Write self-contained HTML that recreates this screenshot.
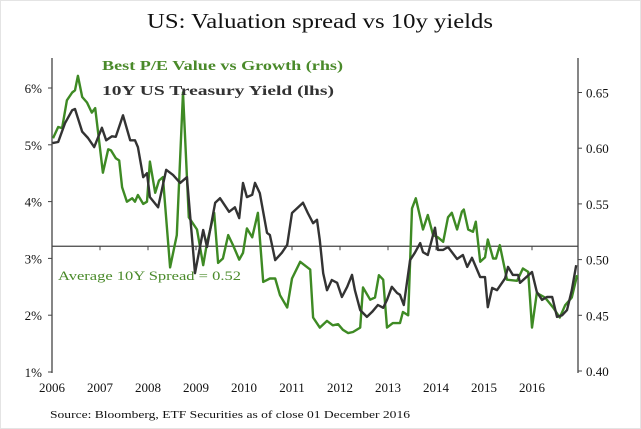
<!DOCTYPE html>
<html><head><meta charset="utf-8"><style>
body{margin:0;background:#fff;}
svg{display:block;font-family:"Liberation Serif",serif;}
</style></head><body>
<svg id="chart" width="641" height="429" viewBox="0 0 641 429">
<rect x="0.5" y="0.5" width="640" height="428" fill="#fff" stroke="#e4e4e4"/>
<text x="147" y="28" font-size="21" textLength="346" lengthAdjust="spacingAndGlyphs" fill="#111">US: Valuation spread vs 10y yields</text>
<g id="axes"></g>
<g id="series"></g>
<text x="102" y="70" font-size="13.5" font-weight="bold" textLength="241" lengthAdjust="spacingAndGlyphs" fill="#4a8a2a">Best P/E Value vs Growth (rhs)</text>
<text x="102" y="95" font-size="13.5" font-weight="bold" textLength="232" lengthAdjust="spacingAndGlyphs" fill="#333">10Y US Treasury Yield (lhs)</text>
<text x="58" y="280" font-size="13" textLength="183" lengthAdjust="spacingAndGlyphs" fill="#4a8a2a">Average 10Y Spread = 0.52</text>
<text x="50" y="418" font-size="11" textLength="360" lengthAdjust="spacingAndGlyphs" fill="#111">Source: Bloomberg, ETF Securities as of close 01 December 2016</text>
</svg>
<script>
const yearLabels=["2006","2007","2008","2009","2010","2011","2012","2013","2014","2015","2016"];
const leftTicks=[1,2,3,4,5,6];
const rightTicks=[0.40,0.45,0.50,0.55,0.60,0.65];
const averageSpread=0.512;
const yieldT=[.01,.13,.27,.42,.48,.63,.75,.88,1.04,1.13,1.25,1.33,1.48,1.63,1.73,1.79,1.90,1.98,2.04,2.21,2.38,2.52,2.67,2.81,2.98,3.15,3.23,3.40,3.50,3.69,3.81,3.90,3.98,4.06,4.17,4.23,4.33,4.48,4.54,4.65,4.79,4.90,5.00,5.23,5.33,5.44,5.52,5.58,5.65,5.73,5.83,5.94,6.04,6.15,6.25,6.31,6.42,6.56,6.67,6.79,6.90,6.98,7.08,7.19,7.25,7.33,7.46,7.56,7.67,7.73,7.83,7.98,8.04,8.15,8.25,8.44,8.56,8.65,8.75,8.92,9.02,9.08,9.17,9.27,9.44,9.50,9.60,9.71,9.75,10.00,10.10,10.21,10.31,10.42,10.52,10.63,10.73,10.83,10.92];
const yieldV=[5.03,5.05,5.38,5.61,5.63,5.23,5.12,4.96,5.30,5.08,5.15,5.14,5.52,5.08,5.08,4.96,4.43,4.50,4.08,3.90,4.56,4.47,4.33,4.43,2.74,3.50,3.20,3.98,4.06,3.82,3.90,3.71,4.33,4.08,4.12,4.33,4.15,3.45,3.41,2.97,3.10,3.24,3.80,3.98,3.80,3.62,3.68,3.32,2.74,2.44,2.62,2.57,2.32,2.50,2.71,2.44,2.09,1.97,2.06,2.18,2.13,2.27,2.50,2.39,2.36,2.18,2.97,3.10,3.27,3.11,3.06,3.54,3.15,3.15,3.20,2.99,3.06,2.85,3.01,2.67,2.67,2.14,2.48,2.44,2.65,2.85,2.71,2.71,2.57,2.76,2.41,2.27,2.32,2.32,1.97,2.00,2.09,2.44,2.88];
const spreadT=[.02,.13,.21,.31,.42,.48,.54,.63,.73,.83,.90,1.06,1.17,1.23,1.33,1.40,1.46,1.56,1.67,1.73,1.79,1.90,1.98,2.04,2.15,2.23,2.31,2.46,2.60,2.73,2.85,3.02,3.15,3.23,3.38,3.46,3.56,3.67,3.77,3.90,3.98,4.06,4.17,4.29,4.40,4.54,4.65,4.75,4.90,5.00,5.17,5.38,5.44,5.58,5.73,5.85,5.96,6.06,6.17,6.27,6.42,6.48,6.63,6.73,6.81,6.90,6.98,7.10,7.25,7.31,7.42,7.50,7.58,7.73,7.83,7.94,8.04,8.15,8.25,8.33,8.44,8.54,8.58,8.67,8.77,8.83,8.92,9.02,9.08,9.19,9.25,9.33,9.48,9.69,9.81,9.92,10.00,10.10,10.27,10.44,10.58,10.69,10.83,10.94];
const spreadV=[.609,.619,.618,.643,.650,.652,.665,.646,.641,.632,.636,.578,.599,.598,.591,.589,.565,.552,.555,.552,.558,.550,.552,.588,.560,.571,.574,.493,.522,.650,.538,.527,.495,.515,.542,.497,.501,.522,.513,.500,.506,.528,.520,.542,.480,.483,.483,.468,.457,.483,.498,.491,.448,.439,.445,.441,.442,.437,.434,.435,.439,.475,.464,.466,.486,.482,.439,.443,.443,.453,.450,.546,.555,.527,.540,.522,.520,.516,.538,.542,.527,.543,.545,.527,.525,.534,.498,.502,.518,.501,.501,.513,.482,.481,.492,.489,.439,.470,.466,.457,.448,.459,.466,.486];
const NS="http://www.w3.org/2000/svg";
const X0=52,X1=578;
const xs=t=>X0+t*48;
const yL=v=>372-(v-1)*56.8;
const yR=v=>371-(v-0.40)*1114;
function mk(tag,attrs,parent){const e=document.createElementNS(NS,tag);for(const k in attrs)e.setAttribute(k,attrs[k]);parent.appendChild(e);return e;}
const ax=document.getElementById('axes');
let e=mk('line',{x1:X0,y1:58,x2:X0,y2:373,stroke:'#444','stroke-width':1.3},ax);


e=mk('line',{x1:X1,y1:58,x2:X1,y2:373,stroke:'#444','stroke-width':1.3},ax);


leftTicks.forEach(v=>{
  mk('line',{x1:X0-4,y1:yL(v),x2:X0,y2:yL(v),stroke:'#444'},ax);
  const t=mk('text',{x:X0-10,y:yL(v)+5,'font-size':13,'text-anchor':'end',fill:'#111'},ax);
  t.textContent=v+'%';
  
  
});
rightTicks.forEach(v=>{
  mk('line',{x1:X1,y1:yR(v),x2:X1+4,y2:yR(v),stroke:'#444'},ax);
  const t=mk('text',{x:X1+8,y:yR(v)+5,'font-size':13,fill:'#111'},ax);
  t.textContent=v.toFixed(2);
  
  
});
const ya=yR(averageSpread);
e=mk('line',{x1:X0,y1:ya,x2:X1,y2:ya,stroke:'#444','stroke-width':1.2},ax);


yearLabels.forEach((l,i)=>{
  if(i>0)mk('line',{x1:xs(i),y1:ya,x2:xs(i),y2:ya+4,stroke:'#444'},ax);
  const t=mk('text',{x:xs(i),y:392,'font-size':13,'text-anchor':'middle',fill:'#111'},ax);
  t.textContent=l;
  
  
});
const sg=document.getElementById('series');
let d=spreadT.map((t,i)=>(i?'L':'M')+xs(t).toFixed(1)+','+yR(spreadV[i]).toFixed(1)).join('');
e=mk('path',{d:d,fill:'none',stroke:'#3e8a24','stroke-width':2.4,'stroke-linejoin':'round'},sg);


d=yieldT.map((t,i)=>(i?'L':'M')+xs(t).toFixed(1)+','+yL(yieldV[i]).toFixed(1)).join('');
e=mk('path',{d:d,fill:'none',stroke:'#333','stroke-width':2.4,'stroke-linejoin':'round'},sg);


</script>
</body></html>
